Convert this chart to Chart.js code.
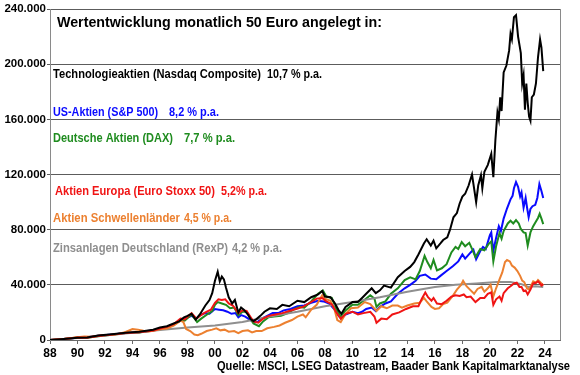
<!DOCTYPE html>
<html>
<head>
<meta charset="utf-8">
<script src="https://cdn.jsdelivr.net/npm/chart.js@4/dist/chart.umd.min.js"></script>
<style>
  html, body { margin: 0; padding: 0; background: #fff; }
  #wrap { width: 580px; height: 375px; }
</style>
</head>
<body>
<div id="wrap"><canvas id="chart" width="580" height="375"></canvas></div>
<script>
// Values in thousand euro (x = decimal year)
const nasdaqYears = [1988, 1989, 1990, 1990.7, 1991.5, 1992.5, 1993.5, 1994.5, 1995.5, 1996, 1996.5, 1997, 1997.4, 1997.75, 1998, 1998.3, 1998.6, 1998.9, 1999.3, 1999.6, 1999.8, 2000, 2000.2, 2000.35, 2000.5, 2000.65, 2000.8, 2001, 2001.25, 2001.45, 2001.7, 2001.9, 2002.1, 2002.4, 2002.6, 2002.8, 2003, 2003.3, 2003.6, 2004, 2004.5, 2004.9, 2005.4, 2006, 2006.5, 2007, 2007.5, 2007.8, 2008, 2008.4, 2008.7, 2009, 2009.2, 2009.5, 2010, 2010.4, 2010.7, 2011, 2011.4, 2011.7, 2012, 2012.3, 2012.8, 2013.3, 2013.8, 2014.2, 2014.5, 2014.8, 2015, 2015.2, 2015.4, 2015.7, 2015.9, 2016.1, 2016.4, 2016.6, 2016.9, 2017.1, 2017.35, 2017.6, 2017.8, 2018, 2018.2, 2018.45, 2018.7, 2018.85, 2019, 2019.15, 2019.35, 2019.45, 2019.6, 2019.85, 2020.1, 2020.25, 2020.4, 2020.55, 2020.65, 2020.75, 2020.85, 2021, 2021.2, 2021.4, 2021.5, 2021.6, 2021.75, 2021.9, 2022.05, 2022.15, 2022.25, 2022.35, 2022.45, 2022.55, 2022.65, 2022.75, 2022.85, 2022.95, 2023.05, 2023.2, 2023.35, 2023.5, 2023.65, 2023.75, 2023.88];
const nasdaqValues = [0, 0.7, 1.6, 1.9, 3.2, 4.2, 5.3, 6.0, 7.5, 9.0, 10.0, 12.0, 13.5, 16.5, 17.5, 19.0, 14.8, 18.5, 25.0, 29.0, 34.0, 43.0, 49.5, 42.5, 46.0, 44.0, 38.0, 31.0, 26.5, 29.0, 20.0, 23.5, 22.0, 18.5, 15.0, 13.8, 15.0, 17.5, 20.5, 23.0, 22.5, 25.5, 24.5, 28.5, 27.5, 31.0, 33.0, 35.5, 31.5, 31.0, 27.0, 21.5, 19.0, 24.0, 27.5, 27.5, 30.5, 33.5, 37.5, 34.0, 36.0, 39.5, 38.0, 45.5, 50.0, 53.0, 56.5, 62.0, 66.0, 70.0, 73.0, 68.5, 72.0, 66.5, 70.0, 72.5, 74.5, 80.0, 89.0, 92.0, 99.0, 104.0, 106.0, 112.0, 120.0, 110.0, 100.0, 112.0, 119.5, 110.0, 122.0, 127.0, 135.0, 118.0, 145.0, 165.0, 160.0, 176.0, 166.0, 194.0, 199.0, 210.0, 222.0, 218.0, 234.0, 235.5, 220.0, 214.0, 208.0, 186.0, 192.0, 167.0, 186.0, 172.0, 162.0, 159.0, 176.0, 178.0, 186.0, 205.0, 218.0, 212.0, 195.0];

const spYears = [1988, 1989, 1990, 1990.7, 1991.5, 1992.5, 1993.5, 1994.5, 1995.5, 1996, 1996.5, 1997, 1997.5, 1997.8, 1998.3, 1998.65, 1998.9, 1999.3, 1999.6, 2000, 2000.3, 2000.6, 2000.9, 2001.2, 2001.5, 2001.7, 2001.9, 2002.2, 2002.5, 2002.8, 2003.1, 2003.4, 2003.8, 2004.2, 2004.6, 2005, 2005.5, 2006, 2006.5, 2007, 2007.5, 2007.9, 2008.3, 2008.7, 2009, 2009.2, 2009.5, 2010, 2010.4, 2010.7, 2011, 2011.4, 2011.7, 2012, 2012.4, 2012.8, 2013.3, 2013.8, 2014.2, 2014.6, 2014.9, 2015.3, 2015.7, 2016.1, 2016.4, 2016.85, 2017.3, 2017.7, 2018, 2018.2, 2018.6, 2018.8, 2019, 2019.3, 2019.5, 2019.7, 2020, 2020.1, 2020.25, 2020.45, 2020.65, 2020.8, 2021, 2021.25, 2021.5, 2021.65, 2021.75, 2021.9, 2022.05, 2022.2, 2022.3, 2022.45, 2022.6, 2022.72, 2022.82, 2022.95, 2023.1, 2023.3, 2023.45, 2023.6, 2023.75, 2023.88];
const spValues = [0, 0.7, 1.7, 2.0, 3.0, 4.0, 5.0, 5.6, 7.0, 8.2, 9.5, 11.5, 14.0, 15.5, 17.5, 15.5, 18.0, 19.5, 19.0, 22.5, 22.0, 21.5, 20.5, 19.0, 19.5, 16.5, 18.0, 17.0, 15.0, 13.0, 13.0, 15.5, 17.5, 19.5, 19.5, 21.5, 22.5, 24.5, 25.0, 27.0, 28.5, 28.0, 26.5, 22.0, 17.5, 15.5, 18.5, 20.5, 19.5, 20.5, 22.5, 23.5, 21.0, 24.0, 26.5, 28.0, 33.5, 37.5, 40.0, 43.0, 46.5, 47.5, 44.5, 44.0, 46.5, 50.0, 53.5, 57.0, 62.0, 59.0, 63.5, 65.5, 58.5, 64.5, 67.5, 66.0, 76.0, 78.0, 64.5, 74.0, 82.5, 79.0, 88.0, 95.5, 102.0, 104.5, 110.0, 114.5, 111.0, 104.0, 107.0, 96.0, 103.0, 95.0, 89.0, 95.0, 97.0, 98.0, 103.0, 113.0, 108.0, 103.0];

const daxYears = [1988, 1989, 1990, 1990.7, 1991.5, 1992.5, 1993.5, 1994.5, 1995.5, 1996, 1996.5, 1997, 1997.5, 1997.8, 1998.3, 1998.7, 1999, 1999.5, 1999.8, 2000, 2000.2, 2000.5, 2000.8, 2001.1, 2001.4, 2001.7, 2002, 2002.3, 2002.6, 2002.8, 2003.2, 2003.5, 2003.9, 2004.3, 2004.8, 2005.3, 2005.8, 2006.2, 2006.5, 2007, 2007.5, 2007.85, 2008.1, 2008.5, 2008.8, 2009.15, 2009.5, 2010, 2010.4, 2010.8, 2011.3, 2011.6, 2011.75, 2012, 2012.4, 2012.8, 2013.3, 2013.8, 2014.2, 2014.6, 2014.9, 2015.25, 2015.45, 2015.7, 2015.9, 2016.15, 2016.5, 2016.85, 2017.2, 2017.5, 2017.7, 2017.95, 2018.2, 2018.5, 2018.75, 2018.95, 2019.3, 2019.6, 2019.9, 2020.1, 2020.25, 2020.45, 2020.7, 2020.85, 2021, 2021.3, 2021.5, 2021.7, 2021.9, 2022.1, 2022.25, 2022.45, 2022.6, 2022.75, 2022.95, 2023.15, 2023.35, 2023.5, 2023.62, 2023.75, 2023.88];
const daxValues = [0, 0.7, 1.8, 1.7, 2.8, 3.8, 5.0, 5.5, 6.8, 7.8, 9.0, 11.0, 15.0, 14.0, 18.5, 13.0, 15.5, 19.0, 21.0, 25.5, 27.5, 26.5, 25.5, 23.0, 23.5, 18.0, 20.5, 20.5, 15.0, 12.0, 10.0, 13.5, 16.5, 17.0, 17.5, 19.5, 22.5, 24.0, 23.5, 28.0, 33.5, 36.0, 31.5, 30.5, 23.0, 17.0, 21.5, 25.5, 25.5, 28.5, 32.5, 30.0, 24.0, 26.5, 28.0, 33.5, 37.5, 43.5, 45.5, 44.0, 50.0, 61.0, 56.5, 52.0, 58.0, 50.5, 52.0, 55.0, 63.5, 67.5, 66.0, 71.0, 68.0, 70.5, 65.0, 60.0, 66.0, 65.0, 69.5, 71.5, 57.0, 68.0, 77.5, 73.5, 79.0, 84.5, 86.5, 84.5, 87.0, 84.5, 80.5, 78.0, 77.5, 68.5, 78.0, 82.5, 86.0, 88.5, 91.5, 88.0, 84.0];

const stoxxYears = [1988, 1989, 1990, 1990.7, 1991.5, 1992.5, 1993.5, 1994.5, 1995.5, 1996, 1996.5, 1997, 1997.5, 1997.8, 1998.3, 1998.65, 1998.9, 1999.3, 1999.7, 2000, 2000.25, 2000.5, 2000.75, 2001, 2001.3, 2001.7, 2002, 2002.3, 2002.6, 2002.8, 2003.15, 2003.5, 2003.9, 2004.4, 2004.9, 2005.4, 2005.9, 2006.4, 2006.9, 2007.4, 2007.8, 2008.1, 2008.5, 2008.8, 2009.15, 2009.5, 2010, 2010.4, 2010.8, 2011.3, 2011.6, 2011.75, 2012.1, 2012.5, 2012.9, 2013.4, 2013.9, 2014.4, 2014.8, 2015.05, 2015.3, 2015.5, 2015.75, 2015.9, 2016.15, 2016.5, 2016.85, 2017.2, 2017.5, 2017.8, 2018.1, 2018.3, 2018.6, 2018.95, 2019.3, 2019.6, 2019.85, 2020.1, 2020.25, 2020.45, 2020.7, 2020.85, 2021, 2021.3, 2021.5, 2021.75, 2021.95, 2022.15, 2022.3, 2022.45, 2022.6, 2022.75, 2022.95, 2023.15, 2023.35, 2023.5, 2023.65, 2023.75, 2023.88];
const stoxxValues = [0, 0.7, 1.8, 1.7, 2.9, 3.9, 5.0, 5.7, 6.9, 8.3, 9.5, 11.5, 15.5, 15.0, 19.5, 15.5, 17.5, 20.0, 22.0, 27.0, 29.5, 29.0, 29.5, 26.5, 25.0, 19.5, 21.5, 21.0, 16.5, 13.5, 12.5, 15.5, 17.5, 18.5, 19.5, 21.0, 22.5, 24.0, 27.0, 30.0, 30.5, 28.0, 26.0, 20.5, 15.5, 19.0, 20.5, 18.5, 19.5, 20.5, 17.0, 12.5, 15.5, 15.0, 18.5, 20.0, 22.5, 24.5, 24.5, 30.0, 34.5, 31.0, 28.5, 30.5, 26.5, 26.0, 28.5, 31.5, 32.5, 32.0, 33.0, 31.0, 31.5, 27.5, 30.5, 30.5, 33.5, 34.5, 25.5, 29.5, 31.5, 28.5, 34.0, 37.5, 39.0, 41.0, 41.5, 38.5, 38.5, 35.5, 36.0, 33.0, 36.5, 41.0, 41.5, 42.5, 41.0, 39.5, 40.5];

const emYears = [1988, 1989, 1990, 1990.5, 1991, 1991.5, 1992, 1992.5, 1993, 1993.5, 1994, 1994.4, 1994.8, 1995.2, 1995.6, 1996, 1996.5, 1997, 1997.5, 1997.7, 1997.9, 1998.2, 1998.5, 1998.75, 1999, 1999.4, 1999.8, 2000.1, 2000.4, 2000.7, 2001, 2001.4, 2001.7, 2002, 2002.4, 2002.7, 2003, 2003.4, 2003.8, 2004.3, 2004.7, 2005.1, 2005.6, 2006, 2006.4, 2006.6, 2007, 2007.4, 2007.8, 2008, 2008.4, 2008.7, 2008.9, 2009.15, 2009.5, 2009.9, 2010.4, 2010.9, 2011.3, 2011.75, 2012.1, 2012.5, 2012.9, 2013.3, 2013.6, 2014, 2014.5, 2014.9, 2015.2, 2015.4, 2015.75, 2016, 2016.3, 2016.6, 2016.9, 2017.3, 2017.6, 2017.9, 2018.05, 2018.3, 2018.55, 2018.85, 2019.1, 2019.4, 2019.6, 2019.85, 2020.05, 2020.25, 2020.45, 2020.7, 2020.9, 2021.1, 2021.25, 2021.45, 2021.6, 2021.8, 2022, 2022.2, 2022.35, 2022.5, 2022.7, 2022.85, 2023, 2023.15, 2023.35, 2023.5, 2023.65, 2023.75, 2023.88];
const emValues = [0, 0.8, 2.0, 2.6, 2.4, 3.0, 3.6, 3.8, 4.3, 5.8, 8.0, 7.5, 6.8, 6.2, 6.8, 7.8, 8.3, 10.5, 14.0, 13.0, 8.0, 6.5, 4.0, 3.5, 4.5, 6.5, 7.5, 8.5, 7.0, 7.5, 6.0, 6.5, 5.0, 6.5, 7.0, 5.5, 6.5, 6.5, 8.5, 9.5, 10.5, 12.5, 14.5, 17.0, 18.5, 16.5, 22.0, 25.5, 32.5, 30.0, 28.5, 22.0, 14.5, 13.0, 19.0, 23.0, 23.5, 27.5, 26.0, 21.0, 24.5, 23.0, 25.0, 25.0, 23.5, 25.0, 26.5, 27.0, 30.5, 28.0, 24.0, 22.5, 23.0, 26.0, 27.0, 32.0, 36.5, 40.0, 43.0, 39.0, 36.5, 33.5, 37.0, 38.5, 35.0, 37.5, 40.0, 31.5, 37.5, 44.0, 49.0, 56.5, 58.0, 57.0, 54.0, 52.5, 50.0, 46.5, 43.0, 42.0, 37.5, 36.5, 39.5, 42.5, 41.5, 43.5, 42.0, 41.0, 39.5];

const rexYears = [1988, 1990, 1992, 1994, 1996, 1998, 2000, 2002, 2004, 2006, 2008, 2010, 2012, 2014, 2016, 2017.5, 2019, 2020.5, 2021.5, 2022.3, 2022.8, 2023.3, 2023.88];
const rexValues = [0, 1.5, 3.3, 5.2, 7.2, 9.0, 10.5, 13.0, 17.0, 20.5, 24.5, 27.5, 31.0, 35.0, 38.5, 40.0, 41.0, 42.0, 42.0, 40.5, 38.5, 39.0, 38.5];

const seriesNames = ["Technologieaktien (Nasdaq Composite)", "US-Aktien (S&P 500)", "Deutsche Aktien (DAX)", "Aktien Europa (Euro Stoxx 50)", "Aktien Schwellenländer", "Zinsanlagen Deutschland (RexP)"];
const seriesRates = ["10,7 % p.a.", "8,2 % p.a.", "7,7 % p.a.", "5,2% p.a.", "4,5 % p.a.", "4,2 % p.a."];
const yTicks = [0, 40, 80, 120, 160, 200, 240];
const titleText = "Wertentwicklung monatlich 50 Euro angelegt in:";
const sourceText = "Quelle: MSCI, LSEG Datastream, Baader Bank Kapitalmarktanalyse";

const colors = ["#000000", "#0a0aff", "#1f8c1f", "#f01414", "#ec8030", "#8f8f8f"];
const FONT = "'Liberation Sans', Arial, sans-serif";

function toPoints(xs, ys) {
  return xs.map((x, i) => ({ x: x, y: ys[i] }));
}

const allSeries = [
  [nasdaqYears, nasdaqValues],
  [spYears, spValues],
  [daxYears, daxValues],
  [stoxxYears, stoxxValues],
  [emYears, emValues],
  [rexYears, rexValues],
];
// lower order is drawn on top
const drawOrder = [0, 5, 4, 1, 2, 3];

const datasets = allSeries.map(([xs, ys], i) => ({
  label: seriesNames[i],
  data: toPoints(xs, ys),
  borderColor: colors[i],
  backgroundColor: colors[i],
  borderWidth: 2,
  pointRadius: 0,
  tension: 0,
  fill: false,
  order: drawOrder[i],
}));

// text layout: [name x, name right, rate x, rate right, center y]
const labelBoxes = [
  [53, 261, 267, 322, 74],
  [53, 158, 169, 219, 112],
  [53, 173, 184, 235, 138],
  [55, 215, 221, 267, 191],
  [53, 180, 184, 232, 218],
  [53, 228, 232, 282, 248],
];

// draw text stretched/squeezed to fit a given width
function fitText(ctx, text, x, right, y, font, color) {
  ctx.save();
  ctx.font = font;
  ctx.fillStyle = color;
  ctx.textBaseline = "middle";
  ctx.textAlign = "left";
  const w = ctx.measureText(text).width;
  ctx.translate(x, y);
  ctx.scale((right - x) / w, 1);
  ctx.fillText(text, 0, 0);
  ctx.restore();
}

const textPlugin = {
  id: "texts",
  afterDraw(chart) {
    const ctx = chart.ctx;
    const area = chart.chartArea;

    // frame on the right
    ctx.save();
    ctx.strokeStyle = "#8a8a8a";
    ctx.lineWidth = 1;
    ctx.beginPath();
    ctx.moveTo(Math.round(area.right) + 0.5, area.top);
    ctx.lineTo(Math.round(area.right) + 0.5, area.bottom);
    ctx.stroke();
    ctx.restore();

    fitText(ctx, titleText, 57, 382, 23, "bold 14.5px " + FONT, "#000");
    labelBoxes.forEach((b, i) => {
      const c = i === 0 ? "#000" : colors[i];
      fitText(ctx, seriesNames[i], b[0], b[1], b[4], "bold 13px " + FONT, c);
      fitText(ctx, seriesRates[i], b[2], b[3], b[4], "bold 13px " + FONT, c);
    });
    fitText(ctx, sourceText, 217, 570, 367, "bold 12.5px " + FONT, "#000");
  },
};

new Chart(document.getElementById("chart"), {
  type: "line",
  data: { datasets: datasets },
  options: {
    responsive: false,
    animation: false,
    devicePixelRatio: 1,
    layout: { padding: { top: 9, right: 20, left: 0, bottom: 0 } },
    plugins: {
      legend: { display: false },
      tooltip: { enabled: false },
    },
    scales: {
      x: {
        type: "linear",
        min: 1988,
        max: 2025.1,
        afterFit: (s) => { s.height = 35; },
        border: { display: true, color: "#6a6a6a", width: 1 },
        grid: { drawOnChartArea: false, drawTicks: true, tickLength: 4, color: "#6a6a6a" },
        ticks: {
          stepSize: 2,
          includeBounds: false,
          maxRotation: 0,
          autoSkip: false,
          padding: 2,
          color: "#000",
          font: { family: FONT, size: 12, weight: "bold" },
          callback: (v) => (Number.isInteger(v) ? String(v % 100).padStart(2, "0") : null),
        },
      },
      y: {
        min: 0,
        max: 240,
        afterFit: (s) => { s.width = 50; },
        afterBuildTicks: (s) => { s.ticks = yTicks.map((v) => ({ value: v })); },
        border: { display: true, color: "#8a8a8a", width: 1 },
        grid: { color: "#5c5c5c", lineWidth: 1, drawTicks: true, tickLength: 3 },
        ticks: {
          padding: 1,
          color: "#000",
          font: { family: FONT, size: 11.5, weight: "bold" },
          callback: (v) => (v === 0 ? "0" : v + ".000"),
        },
      },
    },
  },
  plugins: [textPlugin],
});
</script>
</body>
</html>
